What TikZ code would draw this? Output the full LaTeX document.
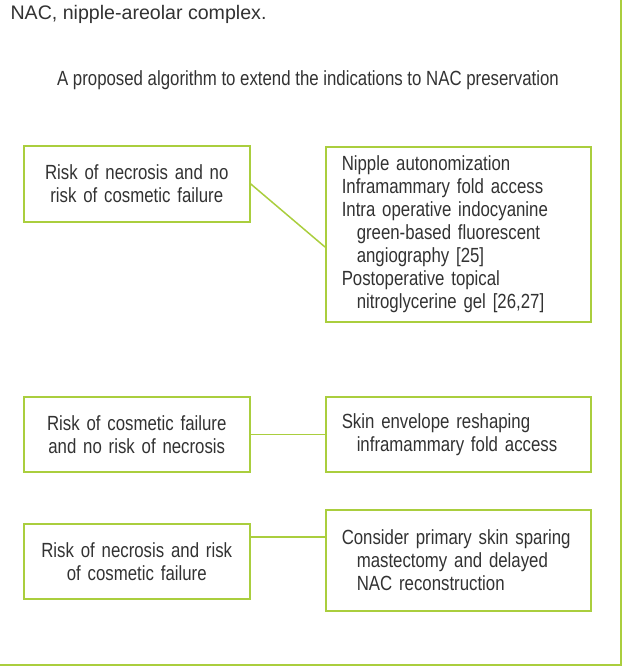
\documentclass[tikz,border=0pt]{standalone}
\usepackage{fontspec}
\setmainfont{Liberation Sans}[FakeStretch=0.82]
\newfontfamily\capfont{Liberation Sans}
\usetikzlibrary{positioning}
\definecolor{boxgreen}{RGB}{170,206,62}
\definecolor{txtgray}{RGB}{50,50,50}

\begin{document}
\begin{tikzpicture}[x=1pt,y=-1pt,
    every node/.style={text=txtgray,font=\fontsize{20.5}{23}\selectfont},
    midbox/.style={draw=boxgreen,line width=1.5pt,anchor=north west,align=center,text width=210pt,inner xsep=8pt,inner ysep=0pt},
    listbox/.style={draw=boxgreen,line width=1.5pt,anchor=north west,align=left,text width=233pt,inner xsep=16pt,inner ysep=0pt},
    link/.style={draw=boxgreen,line width=1.5pt}]
    \def\ind{\hspace*{15pt}}
    \useasboundingbox (0,0) rectangle (622,666);
    \draw [boxgreen,line width=2pt] (621,0) -- (621,665) -- (0,665);
    \node [anchor=west,font=\capfont\fontsize{19.6}{24}\selectfont] (cap) at (7,14) {NAC, nipple-areolar complex.};
    \node (title) at (308,80) {A proposed algorithm to extend the indications to NAC preservation};
    % left column
    \node [midbox,minimum height=76pt] (riskN) at (23,145) {Risk of necrosis and no\\risk of cosmetic failure};
    \node [midbox,minimum height=75pt] (riskC) at (23,396) {Risk of cosmetic failure\\and no risk of necrosis};
    \node [midbox,minimum height=75pt] (riskB) at (23,523) {Risk of necrosis and risk\\of cosmetic failure};
    % right column
    \node [listbox,minimum height=175pt] (plan) at (325,146) {Nipple autonomization\\Inframammary fold access\\Intra operative indocyanine\\\ind green-based fluorescent\\\ind angiography [25]\\Postoperative topical\\\ind nitroglycerine gel [26,27]};
    \node [listbox,minimum height=75pt] (shape) at (325,396) {Skin envelope reshaping\\\ind inframammary fold access};
    \node [listbox,minimum height=101pt] (recon) at (325,509) {Consider primary skin sparing\\\ind mastectomy and delayed\\\ind NAC reconstruction};
    % links
    \coordinate (jN) at ([yshift=-101pt]plan.north west);
    \coordinate (jB) at ([yshift=-14pt]riskB.north east);
    \draw [link] (riskN.east) -- (jN);
    \draw [link] (riskC.east) -- (riskC.east -| shape.west);
    \draw [link] (jB) -- (jB -| recon.west);
\end{tikzpicture}
\end{document}
